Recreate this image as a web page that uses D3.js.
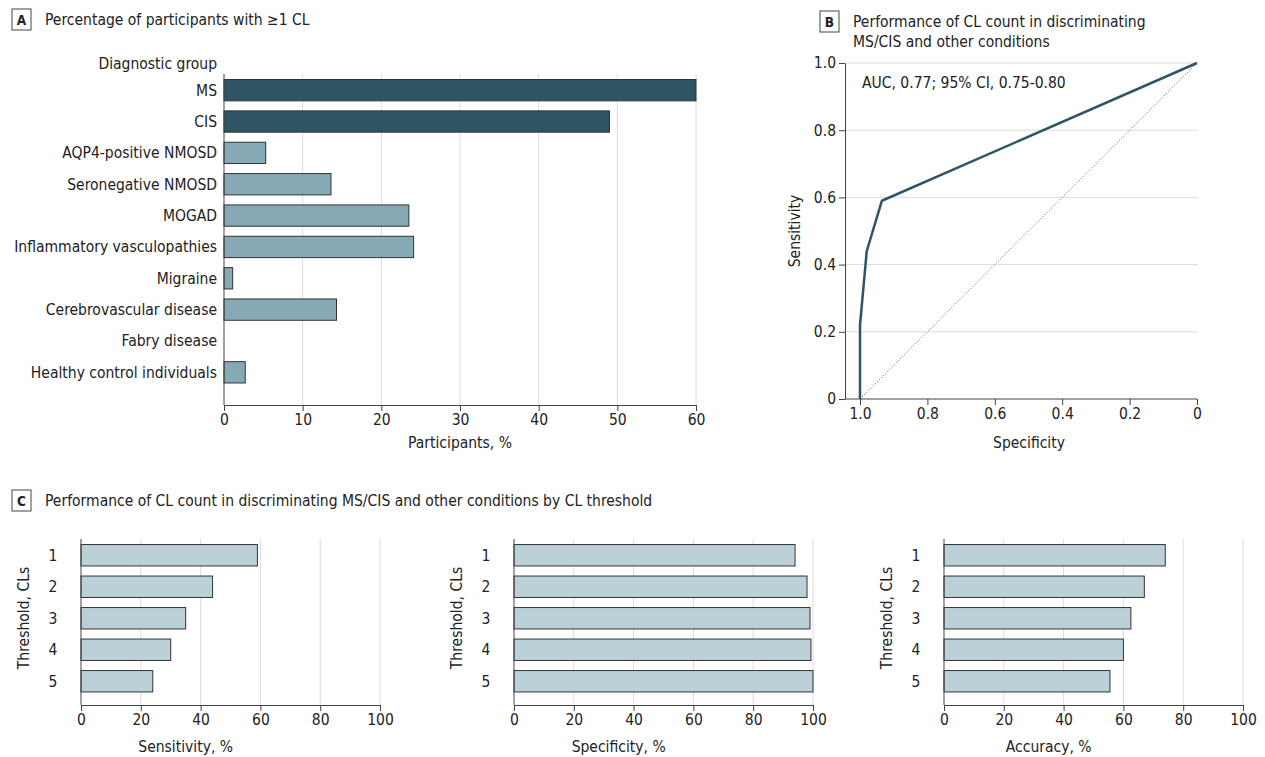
<!DOCTYPE html>
<html><head><meta charset="utf-8">
<script src="https://cdn.jsdelivr.net/npm/d3@7"></script>
<style>
body{margin:0;background:#fff}
text{font-family:"DejaVu Sans Condensed","DejaVu Sans",sans-serif;fill:#222}
</style></head><body>
<svg id="chart" width="1265" height="757"></svg>
<script>
// Panel A
const groups = ['MS','CIS','AQP4-positive NMOSD','Seronegative NMOSD','MOGAD','Inflammatory vasculopathies','Migraine','Cerebrovascular disease','Fabry disease','Healthy control individuals'];
const pctWithCL = [60, 49, 5.3, 13.6, 23.5, 24.1, 1.1, 14.3, 0, 2.7];
const aTicks = [0,10,20,30,40,50,60];
// Panel B
const rocSpec = [1.0, 1.0, 0.98, 0.935, 0];
const rocSens = [0, 0.22, 0.44, 0.59, 1.0];
const bTicks = [0,0.2,0.4,0.6,0.8,1.0];
// Panel C
const thresholds = ['1','2','3','4','5'];
const sensitivity = [59, 44, 35, 30, 24];
const specificity = [94, 98, 99, 99.3, 100];
const accuracy = [74, 67, 62.5, 60, 55.5];
const cTicks = [0,20,40,60,80,100];

const svg = d3.select('#chart');
const DARK = '#2e5563', LIGHT = '#86a9b6', PALE = '#bcd0d8', GRID = '#dcdcdc';
const FS = 15.5;

function panelLabel(x, y, letter, lines) {
  svg.append('rect').attr('x', x).attr('y', y).attr('width', 19).attr('height', 21)
    .attr('fill', '#fff').attr('stroke', '#444');
  svg.append('text').attr('x', x + 9.5).attr('y', y + 15.5).attr('text-anchor', 'middle')
    .attr('font-size', 13.5).attr('font-weight', 'bold').text(letter);
  lines.forEach((l, i) => svg.append('text').attr('x', x + 33).attr('y', y + 16 + i * 20)
    .attr('font-size', 15.5).text(l));
}

function fmtAxis(g) {
  g.select('.domain').attr('stroke', '#444');
  g.selectAll('.tick line').attr('stroke', '#444');
  g.selectAll('.tick text').attr('font-size', FS).attr('fill', '#222')
    .style('font-family', '"DejaVu Sans Condensed","DejaVu Sans",sans-serif');
}

// ---- A ----
panelLabel(12, 9, 'A', ['Percentage of participants with ≥1 CL']);
{
  const x = d3.scaleLinear().domain([0, 60]).range([224, 696]);
  const y = d3.scaleBand().domain(groups).range([74.5, 388]).paddingInner(0.32).paddingOuter(0.16);
  const g = svg.append('g');
  g.selectAll('line.grid').data(aTicks.slice(1)).join('line')
    .attr('x1', d => x(d)).attr('x2', d => x(d)).attr('y1', 74).attr('y2', 405)
    .attr('stroke', GRID);
  g.selectAll('rect').data(groups).join('rect')
    .attr('x', x(0)).attr('y', d => y(d))
    .attr('width', (d, i) => x(pctWithCL[i]) - x(0)).attr('height', y.bandwidth())
    .attr('fill', (d, i) => i < 2 ? DARK : LIGHT)
    .attr('stroke', '#333').attr('stroke-width', 1)
    .attr('display', (d, i) => pctWithCL[i] > 0 ? null : 'none');
  g.selectAll('text.lab').data(groups).join('text')
    .attr('x', 217).attr('y', d => y(d) + y.bandwidth() / 2 + 5.5)
    .attr('text-anchor', 'end').attr('font-size', FS).text(d => d);
  g.append('text').attr('x', 217).attr('y', 69).attr('text-anchor', 'end')
    .attr('font-size', FS).text('Diagnostic group');
  g.append('line').attr('x1', x(0)).attr('x2', x(0)).attr('y1', 74).attr('y2', 405).attr('stroke', '#444');
  svg.append('g').attr('transform', 'translate(0,405)')
    .call(d3.axisBottom(x).tickValues(aTicks).tickSize(6).tickSizeOuter(0)).call(fmtAxis);
  svg.append('text').attr('x', 460).attr('y', 448).attr('text-anchor', 'middle')
    .attr('font-size', FS).text('Participants, %');
}

// ---- B ----
panelLabel(820, 11, 'B', ['Performance of CL count in discriminating', 'MS/CIS and other conditions']);
{
  const x = d3.scaleLinear().domain([1, 0]).range([860, 1197]);
  const y = d3.scaleLinear().domain([0, 1]).range([399, 63]);
  svg.selectAll('line.bg').data(bTicks.slice(1)).join('line')
    .attr('x1', 845).attr('x2', 1198).attr('y1', d => y(d)).attr('y2', d => y(d)).attr('stroke', GRID);
  svg.append('line').attr('x1', x(1)).attr('y1', y(0)).attr('x2', x(0)).attr('y2', y(1))
    .attr('stroke', '#555').attr('stroke-dasharray', '1,2');
  svg.append('g').attr('transform', 'translate(0,399)')
    .call(d3.axisBottom(x).tickValues(bTicks).tickFormat(d => d === 0 ? '0' : d3.format('.1f')(d)).tickSize(6).tickSizeOuter(0))
    .call(fmtAxis).select('.domain').attr('d', 'M845,0H1197');
  svg.append('g').attr('transform', 'translate(845,0)')
    .call(d3.axisLeft(y).tickValues(bTicks).tickFormat(d => d === 0 ? '0' : d3.format('.1f')(d)).tickSize(6).tickSizeOuter(0))
    .call(fmtAxis);
  const line = d3.line().x(d => x(d[0])).y(d => y(d[1]));
  svg.append('path').datum(rocSpec.map((s, i) => [s, rocSens[i]]))
    .attr('d', line).attr('fill', 'none').attr('stroke', DARK).attr('stroke-width', 2.5);
  svg.append('text').attr('x', 862).attr('y', 88).attr('font-size', FS).text('AUC, 0.77; 95% CI, 0.75-0.80');
  svg.append('text').attr('transform', 'translate(800,231) rotate(-90)').attr('text-anchor', 'middle')
    .attr('font-size', FS).text('Sensitivity');
  svg.append('text').attr('x', 1029).attr('y', 448).attr('text-anchor', 'middle')
    .attr('font-size', FS).text('Specificity');
}

// ---- C ----
panelLabel(12, 490, 'C', ['Performance of CL count in discriminating MS/CIS and other conditions by CL threshold']);
function smallPanel(x0, vals, title) {
  const x = d3.scaleLinear().domain([0, 100]).range([x0, x0 + 299]);
  const y = d3.scaleBand().domain(thresholds).range([539.5, 697]).paddingInner(0.32).paddingOuter(0.16);
  svg.selectAll(null).data(cTicks.slice(1)).join('line')
    .attr('x1', d => x(d)).attr('x2', d => x(d)).attr('y1', 539).attr('y2', 705).attr('stroke', GRID);
  svg.selectAll(null).data(thresholds).join('rect')
    .attr('x', x(0)).attr('y', d => y(d))
    .attr('width', (d, i) => x(vals[i]) - x(0)).attr('height', y.bandwidth())
    .attr('fill', PALE).attr('stroke', '#333');
  svg.selectAll(null).data(thresholds).join('text')
    .attr('x', x0 - 28).attr('y', d => y(d) + y.bandwidth() / 2 + 5.5)
    .attr('text-anchor', 'middle').attr('font-size', FS).text(d => d);
  svg.append('line').attr('x1', x(0)).attr('x2', x(0)).attr('y1', 539).attr('y2', 705).attr('stroke', '#444');
  svg.append('g').attr('transform', 'translate(0,705)')
    .call(d3.axisBottom(x).tickValues(cTicks).tickSize(6).tickSizeOuter(0)).call(fmtAxis);
  svg.append('text').attr('x', x(35)).attr('y', 752).attr('text-anchor', 'middle')
    .attr('font-size', FS).text(title);
  svg.append('text').attr('transform', `translate(${x0 - 52},618) rotate(-90)`).attr('text-anchor', 'middle')
    .attr('font-size', FS).text('Threshold, CLs');
}
smallPanel(81, sensitivity, 'Sensitivity, %');
smallPanel(514, specificity, 'Specificity, %');
smallPanel(944, accuracy, 'Accuracy, %');
</script></body></html>
